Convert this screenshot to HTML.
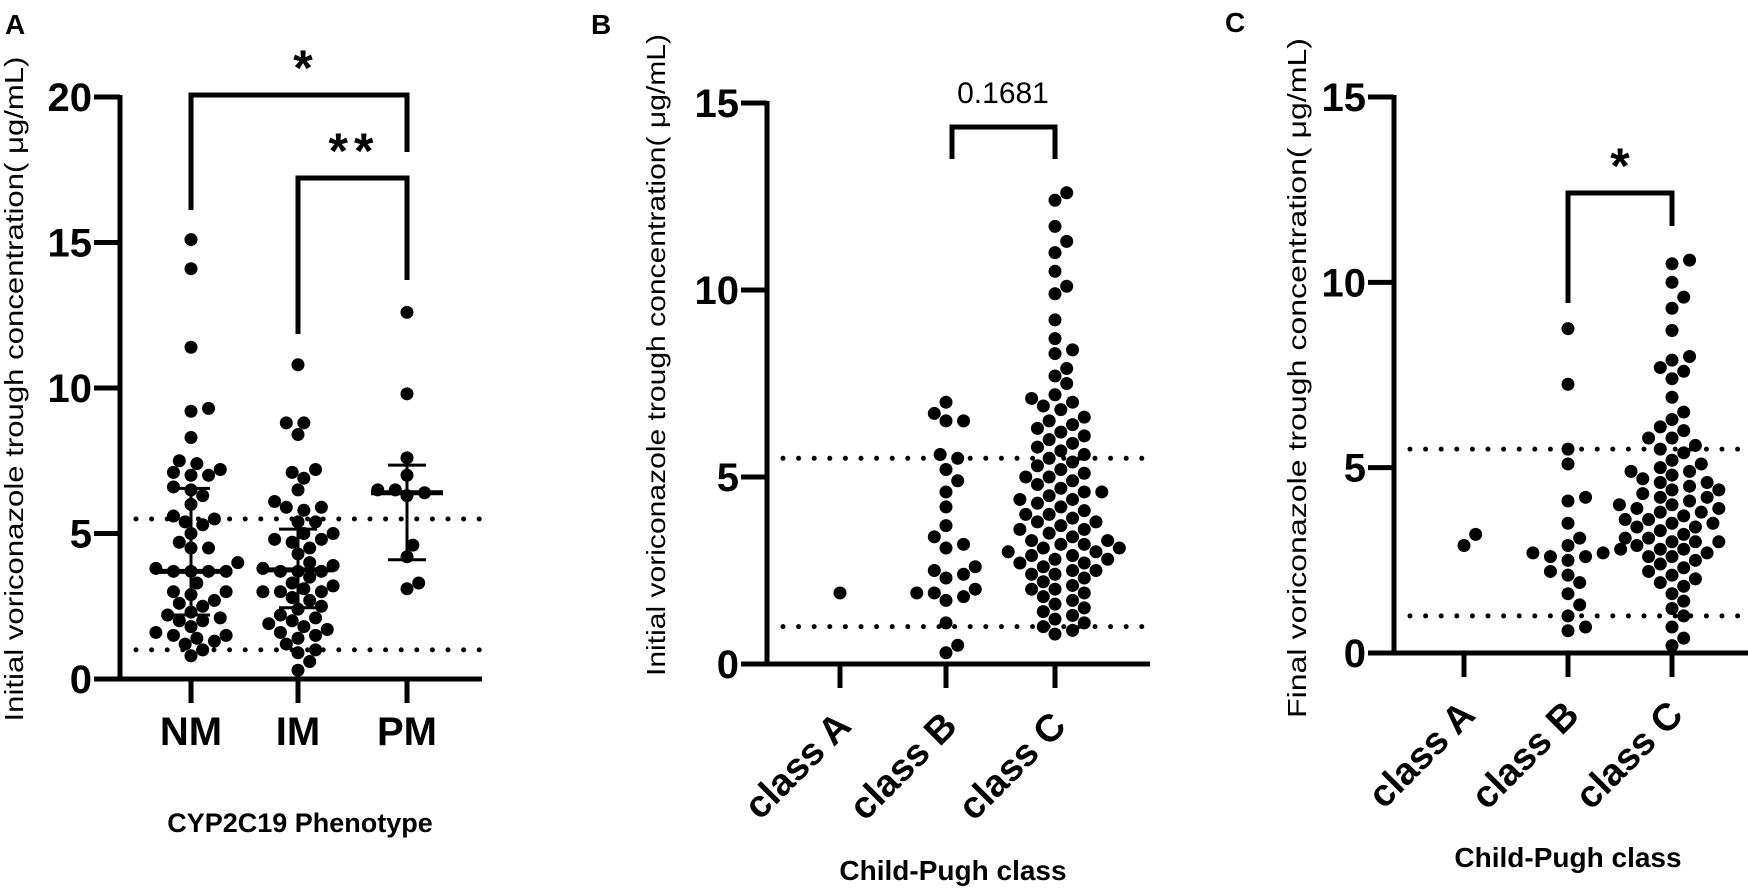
<!DOCTYPE html>
<html><head><meta charset="utf-8"><style>
body{margin:0;background:#fff}
svg{display:block}
text{font-family:"Liberation Sans",Arial,sans-serif;fill:#000}
.b{font-weight:bold}
</style></head><body>
<svg id="s" width="1748" height="889" viewBox="0 0 1748 889" xmlns="http://www.w3.org/2000/svg" style="position:absolute;left:0;top:0">
</svg>
<script>
// ---- data ----
const aCats=["NM","IM","PM"];
const aNM=[15.1,14.1,11.4,9.3,9.2,8.3,7.5,7.4,7.2,7.1,7.0,7.0,6.6,6.5,6.3,6.0,5.6,5.5,5.4,5.3,5.0,4.7,4.5,4.5,4.0,3.8,3.7,3.7,3.7,3.7,3.3,3.0,3.0,2.9,2.7,2.6,2.5,2.3,2.2,2.1,2.0,2.0,1.8,1.6,1.5,1.5,1.4,1.3,1.2,1.0,0.8];
const aIM=[10.8,8.8,8.8,8.4,7.2,7.1,6.9,6.5,6.1,5.9,5.9,5.8,5.4,5.4,5.0,5.0,4.8,4.8,4.7,4.5,4.3,4.0,3.9,3.8,3.7,3.7,3.7,3.5,3.3,3.2,3.1,3.0,3.0,3.0,2.8,2.7,2.5,2.4,2.2,2.1,2.0,1.9,1.8,1.7,1.6,1.5,1.4,1.2,1.0,0.9,0.6,0.3];
const aPM=[12.6,9.8,7.6,7.0,6.5,6.5,6.4,6.3,4.6,4.2,3.3,3.1];
const aMed=[3.7,3.75,6.4];
const aLo=[2.2,2.45,4.1];
const aHi=[6.55,5.15,7.35];
const aTicks=[0,5,10,15,20];
const bCats=["class A","class B","class C"];
const bA=[1.9];
const bB=[7.0,6.7,6.5,6.5,5.6,5.5,5.2,4.9,4.6,4.2,3.7,3.4,3.2,3.1,2.6,2.5,2.4,2.3,2.0,1.9,1.9,1.8,1.7,1.1,0.5,0.3];
const bC=[12.6,12.4,11.7,11.3,11.0,10.5,10.1,9.9,9.2,8.7,8.4,8.3,7.9,7.7,7.5,7.2,7.1,7.0,6.9,6.8,6.6,6.5,6.4,6.3,6.2,6.1,6.0,5.9,5.8,5.7,5.6,5.5,5.4,5.3,5.2,5.1,5.0,4.9,4.8,4.7,4.6,4.5,4.4,4.3,4.2,4.1,4.0,3.9,3.8,3.7,3.6,3.5,3.4,3.3,3.3,3.2,3.1,3.1,3.0,3.0,2.9,2.9,2.8,2.7,2.7,2.6,2.5,2.5,2.4,2.3,2.2,2.1,2.0,2.0,1.9,1.8,1.7,1.6,1.5,1.4,1.3,1.2,1.1,1.0,0.9,0.8,4.4,4.0,3.6,3.2,2.8,2.4,5.0,4.6,3.8];
const bTicks=[0,5,10,15];
const cA=[2.9,3.2];
const cB=[8.75,7.25,5.5,5.1,4.2,4.1,3.5,3.1,2.9,2.8,2.7,2.7,2.6,2.6,2.5,2.2,2.1,1.9,1.6,1.3,1.0,0.7,0.6];
const cC=[10.6,10.5,10.0,9.6,9.3,8.7,8.0,7.9,7.7,7.6,7.4,6.9,6.5,6.3,6.1,6.0,5.8,5.6,5.4,5.2,5.1,5.0,4.9,4.8,4.7,4.6,4.5,4.4,4.3,4.2,4.1,4.0,3.9,3.8,3.7,3.6,3.5,3.4,3.3,3.2,3.1,3.0,3.0,2.9,2.8,2.7,2.6,2.5,2.4,2.3,2.2,2.1,2.0,1.9,1.8,1.6,1.4,1.2,1.0,0.7,0.4,0.2,4.6,4.2,3.8,3.4,3.0,2.6,5.5,4.9,4.4,3.9,3.5,3.1,2.8,5.8,4.0,3.6];
const cTicks=[0,5,10,15];

const NS="http://www.w3.org/2000/svg";
const svg=document.getElementById('s');
function el(tag,attrs,parent){const e=document.createElementNS(NS,tag);for(const k in attrs)e.setAttribute(k,attrs[k]);(parent||svg).appendChild(e);return e;}

function swarm(vals,cx,yf,r,g){
  const placed=[];
  const sorted=vals.slice().sort((a,b)=>a-b);
  sorted.forEach(v=>{
    const y=yf(v);let x=cx;
    for(let k=0;k<60;k++){
      const off=Math.ceil(k/2)*(r*0.9)*(k%2?1:-1);
      const tx=cx+off;
      if(placed.every(p=>(p.x-tx)**2+(p.y-y)**2>=(2*r)**2*0.95)){x=tx;break;}
    }
    placed.push({x,y});
    const c=el('circle',{cx:x,cy:y,r:r,fill:'#000'},g);
    
    
  });
}

function panel(o){
  const g=el('g',{});
  
  
  const yf=v=>o.y0-(o.y0-o.yTop)*v/o.max;
  const ya=el('line',{x1:o.ax,y1:o.yTop-2,x2:o.ax,y2:o.y0+2,stroke:'#000','stroke-width':5},g);
  
  const xa=el('line',{x1:o.ax-26,y1:o.y0,x2:o.xEnd,y2:o.y0,stroke:'#000','stroke-width':5},g);
  
  o.ticks.forEach(t=>{
    el('line',{x1:o.ax-26,y1:yf(t),x2:o.ax,y2:yf(t),stroke:'#000','stroke-width':5},g);
    const tx=el('text',{x:o.ax-28,y:yf(t)+14,'text-anchor':'end','font-size':40,class:'b'},g);
    tx.textContent=t;
    
    
  });
  o.cx.forEach(x=>el('line',{x1:x,y1:o.y0,x2:x,y2:o.y0+24,stroke:'#000','stroke-width':5},g));
  [5.5,1].forEach(v=>{
    const l=el('line',{x1:o.ax+16,y1:yf(v),x2:o.xEnd,y2:yf(v),stroke:'#000','stroke-width':5,'stroke-dasharray':'0 15.6','stroke-linecap':'round'},g);
    
    
  });
  o.groups.forEach((vals,i)=>swarm(vals,o.cx[i],yf,6.5,g));
  return {g,yf};
}

// Panel A
const aX=[191,298,407];
const A=panel({name:'panel-a',ax:120,y0:679,yTop:97,max:20,xEnd:482,ticks:aTicks,cx:aX,groups:[aNM,aIM,aPM]});
[0,1,2].forEach(i=>{
  const x=aX[i],yf=A.yf;
  el('line',{x1:x-36,y1:yf(aMed[i]),x2:x+36,y2:yf(aMed[i]),stroke:'#000','stroke-width':5},A.g);
  el('line',{x1:x,y1:yf(aLo[i]),x2:x,y2:yf(aHi[i]),stroke:'#000','stroke-width':3},A.g);
  el('line',{x1:x-19,y1:yf(aLo[i]),x2:x+19,y2:yf(aLo[i]),stroke:'#000','stroke-width':3},A.g);
  el('line',{x1:x-19,y1:yf(aHi[i]),x2:x+19,y2:yf(aHi[i]),stroke:'#000','stroke-width':3},A.g);
});
aCats.forEach((c,i)=>{const t=el('text',{x:aX[i],y:745,'text-anchor':'middle','font-size':40,class:'b'},A.g);t.textContent=c;});

// Panel B
const bX=[840,946,1055];
const B=panel({name:'panel-b',ax:767,y0:664,yTop:103,max:15,xEnd:1150,ticks:bTicks,cx:bX,groups:[bA,bB,bC]});
bCats.forEach((c,i)=>{const x=bX[i]+13,y=728;const t=el('text',{x:x,y:y,'text-anchor':'end','font-size':38,class:'b',transform:`rotate(-45 ${x} ${y})`},B.g);t.textContent=c;});

// Panel C
const cX=[1464,1568,1672];
const C=panel({name:'panel-c',ax:1394,y0:653,yTop:97,max:15,xEnd:1748,ticks:cTicks,cx:cX,groups:[cA,cB,cC]});
bCats.forEach((c,i)=>{const x=cX[i]+13,y=717;const t=el('text',{x:x,y:y,'text-anchor':'end','font-size':38,class:'b',transform:`rotate(-45 ${x} ${y})`},C.g);t.textContent=c;});
</script>
<svg width="1748" height="889" style="position:absolute;left:0;top:0" xmlns="http://www.w3.org/2000/svg">
<g stroke="#000" stroke-width="5" fill="none">
<polyline points="191,210 191,95 407,95 407,152"/>
<polyline points="298,334 298,178 407,178 407,280"/>
<polyline points="952,159 952,127 1055,127 1055,159"/>
<polyline points="1568,303 1568,193 1672,193 1672,226"/>
</g>
<text x="303" y="85" text-anchor="middle" font-size="50" class="b">*</text>
<text x="354" y="168" text-anchor="middle" font-size="50" class="b" letter-spacing="6">**</text>
<text x="1003" y="103" text-anchor="middle" font-size="30">0.1681</text>
<text x="1620" y="183" text-anchor="middle" font-size="50" class="b">*</text>
<text x="5" y="34" font-size="28" class="b">A</text>
<text x="591" y="34" font-size="28" class="b">B</text>
<text x="1225" y="32" font-size="28" class="b">C</text>
<text x="300" y="832" text-anchor="middle" font-size="27" class="b">CYP2C19 Phenotype</text>
<text x="953" y="880" text-anchor="middle" font-size="28" class="b">Child-Pugh class</text>
<text x="1568" y="867" text-anchor="middle" font-size="28" class="b">Child-Pugh class</text>
<text transform="translate(23,389) rotate(-90)" text-anchor="middle" font-size="26" textLength="665" lengthAdjust="spacingAndGlyphs">Initial voriconazole trough concentration( μg/mL)</text>
<text transform="translate(665,355) rotate(-90)" text-anchor="middle" font-size="26" textLength="642" lengthAdjust="spacingAndGlyphs">Initial voriconazole trough concentration( μg/mL)</text>
<text transform="translate(1306,378) rotate(-90)" text-anchor="middle" font-size="26" textLength="680" lengthAdjust="spacingAndGlyphs">Final voriconazole trough concentration( μg/mL)</text>
</svg>
</body></html>
